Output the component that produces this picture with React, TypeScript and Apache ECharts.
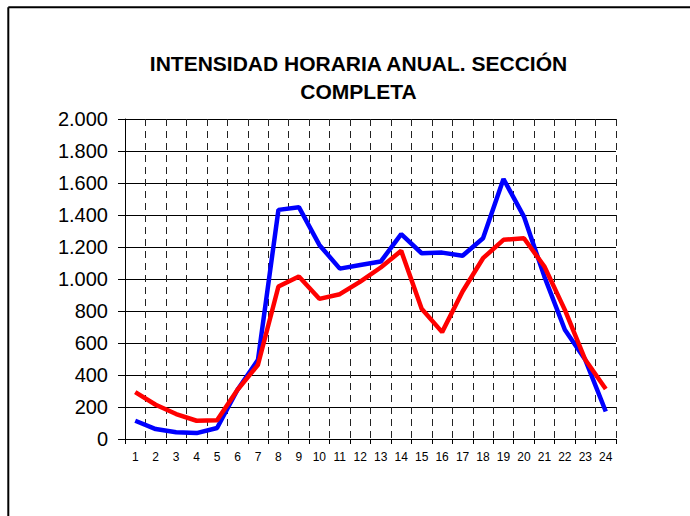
import React, { useEffect, useRef } from "react";
import * as echarts from "echarts";

const hours = ["1","2","3","4","5","6","7","8","9","10","11","12","13","14","15","16","17","18","19","20","21","22","23","24"];
const blueSeries = [114, 62, 42, 37, 69, 308, 495, 1432, 1449, 1213, 1065, 1088, 1109, 1280, 1161, 1165, 1145, 1255, 1625, 1390, 1015, 683, 495, 172];
const redSeries = [293, 214, 156, 114, 117, 308, 464, 953, 1016, 876, 905, 984, 1072, 1176, 814, 668, 922, 1130, 1245, 1255, 1078, 807, 495, 312];
const titleText = "INTENSIDAD HORARIA ANUAL. SECCIÓN\nCOMPLETA";

const fmt = (v: number) => {
  const s = String(Math.round(v));
  return s.replace(/\B(?=(\d{3})+(?!\d))/g, ".");
};

export default function App() {
  const ref = useRef<HTMLDivElement>(null);
  useEffect(() => {
    if (!ref.current) return;
    const chart = echarts.init(ref.current, null, { renderer: "svg" });
    const font = '"Liberation Sans", Arial, sans-serif';
    chart.setOption({
      animation: false,
      backgroundColor: "#fff",
      textStyle: { fontFamily: font },
      graphic: [
        { type: "line", shape: { x1: 8.3, y1: 7.3, x2: 690, y2: 7.3 }, style: { stroke: "#000", lineWidth: 2 } },
        { type: "line", shape: { x1: 8.3, y1: 7.3, x2: 8.3, y2: 516 }, style: { stroke: "#000", lineWidth: 2 } },
        {
          type: "text",
          x: 358.5,
          y: 49.5,
          style: {
            text: titleText,
            textAlign: "center",
            textVerticalAlign: "top",
            font: `bold 21px ${font}`,
            lineHeight: 28,
            fill: "#000",
          },
        },
      ],
      grid: { left: 125, right: 74, top: 119, bottom: 77, containLabel: false },
      xAxis: {
        type: "category",
        data: hours,
        boundaryGap: true,
        axisLine: { show: true, lineStyle: { color: "#000", width: 1 } },
        axisTick: { show: true, length: 5, lineStyle: { color: "#000" } },
        axisLabel: { interval: 0, fontSize: 12, color: "#000", margin: 12, fontFamily: font },
        splitLine: { show: true, interval: 0, lineStyle: { color: "#222", width: 1, type: [7, 5] } },
      },
      yAxis: {
        type: "value",
        min: 0,
        max: 2000,
        interval: 200,
        axisLine: { show: true, lineStyle: { color: "#000", width: 1 } },
        axisTick: { show: true, length: 7, lineStyle: { color: "#000" } },
        axisLabel: { fontSize: 20, color: "#000", margin: 17, fontFamily: font, formatter: (v: number) => fmt(v) },
        splitLine: { show: true, lineStyle: { color: "#000", width: 1 } },
      },
      series: [
        {
          name: "Azul",
          type: "line",
          data: blueSeries,
          symbol: "none",
          lineStyle: { color: "#0000ff", width: 4.5 },
          itemStyle: { color: "#0000ff" },
        },
        {
          name: "Rojo",
          type: "line",
          data: redSeries,
          symbol: "none",
          lineStyle: { color: "#ff0000", width: 4.5 },
          itemStyle: { color: "#ff0000" },
        },
      ],
    });
    return () => chart.dispose();
  }, []);
  return <div ref={ref} style={{ position: "fixed", left: 0, top: 0, width: 690, height: 516 }} />;
}
